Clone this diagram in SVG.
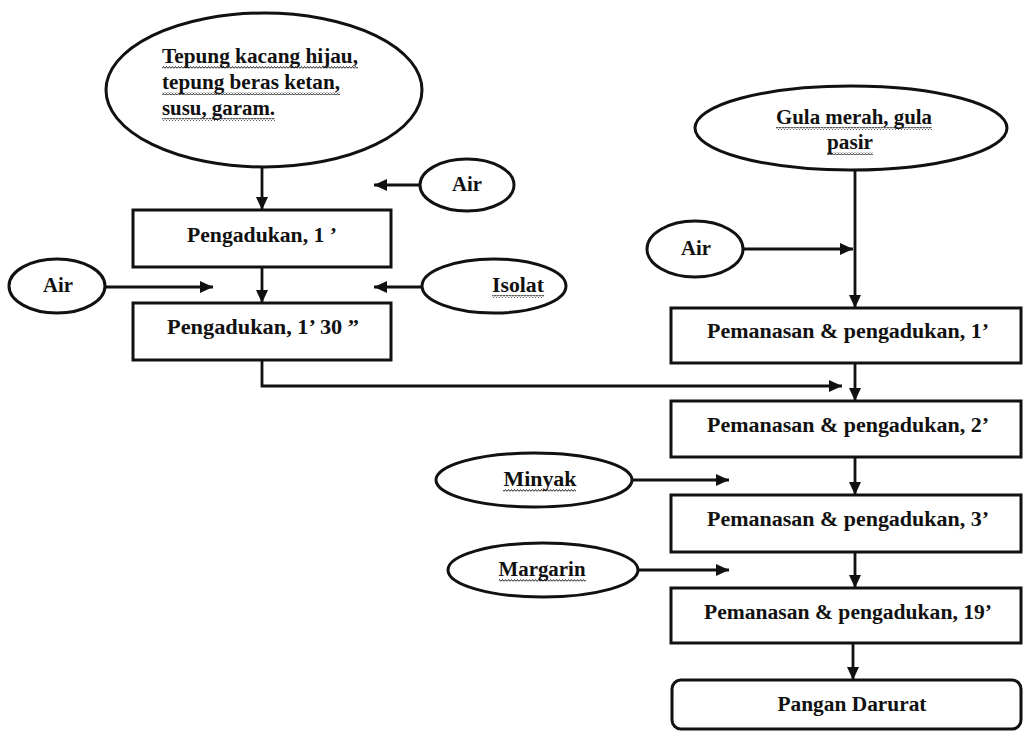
<svg xmlns="http://www.w3.org/2000/svg" width="1025" height="731" viewBox="0 0 1025 731">
<style>
.shape{fill:#fff;stroke:#111;stroke-width:3}
.t{font-family:"Liberation Serif","Times New Roman",serif;font-weight:bold;font-size:20px;fill:#111}
.c{text-anchor:middle}
.ln{fill:none;stroke:#111;stroke-width:2.8}
</style>
<defs>
<marker id="ah" markerUnits="userSpaceOnUse" markerWidth="14" markerHeight="12" refX="13" refY="6" orient="auto">
<path d="M0,0 L13,6 L0,12 Z" fill="#111"/>
</marker>
<pattern id="sq" width="3" height="3" patternUnits="userSpaceOnUse">
<path d="M0,2.5 L1.5,0.5 L3,2.5" fill="none" stroke="#222" stroke-width="1"/>
</pattern>
</defs>
<rect width="1025" height="731" fill="#fff"/>

<g id="connectors">
<line class="ln" x1="262" y1="167" x2="262" y2="210" marker-end="url(#ah)"/>
<line class="ln" x1="419" y1="185" x2="374" y2="185" marker-end="url(#ah)"/>
<line class="ln" x1="262" y1="267" x2="262" y2="303" marker-end="url(#ah)"/>
<line class="ln" x1="105" y1="287" x2="213" y2="287" marker-end="url(#ah)"/>
<line class="ln" x1="422" y1="287" x2="374" y2="287" marker-end="url(#ah)"/>
<polyline class="ln" points="262,360 262,386 842,386" marker-end="url(#ah)"/>
<line class="ln" x1="855" y1="170" x2="855" y2="308" marker-end="url(#ah)"/>
<line class="ln" x1="743" y1="249" x2="853" y2="249" marker-end="url(#ah)"/>
<line class="ln" x1="855" y1="363" x2="855" y2="401" marker-end="url(#ah)"/>
<line class="ln" x1="855" y1="457" x2="855" y2="495" marker-end="url(#ah)"/>
<line class="ln" x1="632" y1="480" x2="729" y2="480" marker-end="url(#ah)"/>
<line class="ln" x1="855" y1="552" x2="855" y2="588" marker-end="url(#ah)"/>
<line class="ln" x1="638" y1="570" x2="729" y2="570" marker-end="url(#ah)"/>
<line class="ln" x1="853" y1="643" x2="853" y2="680" marker-end="url(#ah)"/>
</g>

<g id="n-bahan">
<ellipse class="shape" cx="264" cy="90" rx="158" ry="77"/>
<text class="t" x="162" y="63" textLength="196" lengthAdjust="spacingAndGlyphs">Tepung kacang hijau,</text>
<text class="t" x="162" y="89" textLength="178" lengthAdjust="spacingAndGlyphs">tepung beras ketan,</text>
<text class="t" x="162" y="115" textLength="113" lengthAdjust="spacingAndGlyphs">susu, garam.</text>
<rect x="162" y="66" width="196" height="3" fill="url(#sq)"/>
<rect x="162" y="92" width="178" height="3" fill="url(#sq)"/>
<rect x="162" y="118" width="113" height="3" fill="url(#sq)"/>
</g>

<g id="n-air1">
<ellipse class="shape" cx="467" cy="185" rx="47" ry="26"/>
<text class="t c" x="467" y="191" textLength="30" lengthAdjust="spacingAndGlyphs">Air</text>
</g>

<g id="n-aduk1">
<rect class="shape" x="133" y="210" width="258" height="57"/>
<text class="t c" x="262" y="242" textLength="150" lengthAdjust="spacingAndGlyphs">Pengadukan, 1 ’</text>
</g>

<g id="n-air2">
<ellipse class="shape" cx="57" cy="286" rx="48" ry="27"/>
<text class="t c" x="58" y="292" textLength="30" lengthAdjust="spacingAndGlyphs">Air</text>
</g>

<g id="n-isolat">
<ellipse class="shape" cx="494" cy="286" rx="72" ry="27"/>
<text class="t c" x="518" y="292" textLength="52" lengthAdjust="spacingAndGlyphs">Isolat</text>
<rect x="492" y="295" width="52" height="3" fill="url(#sq)"/>
</g>

<g id="n-aduk2">
<rect class="shape" x="133" y="303" width="258" height="57"/>
<text class="t c" x="263" y="334" textLength="192" lengthAdjust="spacingAndGlyphs">Pengadukan, 1’ 30 ”</text>
</g>

<g id="n-gula">
<ellipse class="shape" cx="851" cy="128" rx="156" ry="42"/>
<text class="t c" x="854" y="124" textLength="156" lengthAdjust="spacingAndGlyphs">Gula merah, gula</text>
<text class="t c" x="850" y="149" textLength="46" lengthAdjust="spacingAndGlyphs">pasir</text>
<rect x="776" y="127" width="156" height="3" fill="url(#sq)"/>
<rect x="827" y="152" width="46" height="3" fill="url(#sq)"/>
</g>

<g id="n-air3">
<ellipse class="shape" cx="695" cy="249" rx="48" ry="28"/>
<text class="t c" x="696" y="255" textLength="30" lengthAdjust="spacingAndGlyphs">Air</text>
</g>

<g id="n-panas1">
<rect class="shape" x="671" y="308" width="350" height="55"/>
<text class="t c" x="848" y="338" textLength="282" lengthAdjust="spacingAndGlyphs">Pemanasan &amp; pengadukan, 1’</text>
</g>

<g id="n-panas2">
<rect class="shape" x="671" y="401" width="350" height="56"/>
<text class="t c" x="848" y="432" textLength="282" lengthAdjust="spacingAndGlyphs">Pemanasan &amp; pengadukan, 2’</text>
</g>

<g id="n-minyak">
<ellipse class="shape" cx="534" cy="480" rx="98" ry="27"/>
<text class="t c" x="540" y="486" textLength="73" lengthAdjust="spacingAndGlyphs">Minyak</text>
<rect x="503" y="489" width="73" height="3" fill="url(#sq)"/>
</g>

<g id="n-panas3">
<rect class="shape" x="671" y="495" width="350" height="57"/>
<text class="t c" x="848" y="526" textLength="282" lengthAdjust="spacingAndGlyphs">Pemanasan &amp; pengadukan, 3’</text>
</g>

<g id="n-margarin">
<ellipse class="shape" cx="543" cy="570" rx="95" ry="27"/>
<text class="t c" x="542" y="576" textLength="87" lengthAdjust="spacingAndGlyphs">Margarin</text>
<rect x="499" y="579" width="87" height="3" fill="url(#sq)"/>
</g>

<g id="n-panas4">
<rect class="shape" x="671" y="588" width="350" height="55"/>
<text class="t c" x="848" y="619" textLength="288" lengthAdjust="spacingAndGlyphs">Pemanasan &amp; pengadukan, 19’</text>
</g>

<g id="n-pangan">
<rect class="shape" x="672" y="680" width="349" height="49" rx="9"/>
<text class="t c" x="852" y="711" textLength="149" lengthAdjust="spacingAndGlyphs">Pangan Darurat</text>
</g>
</svg>
